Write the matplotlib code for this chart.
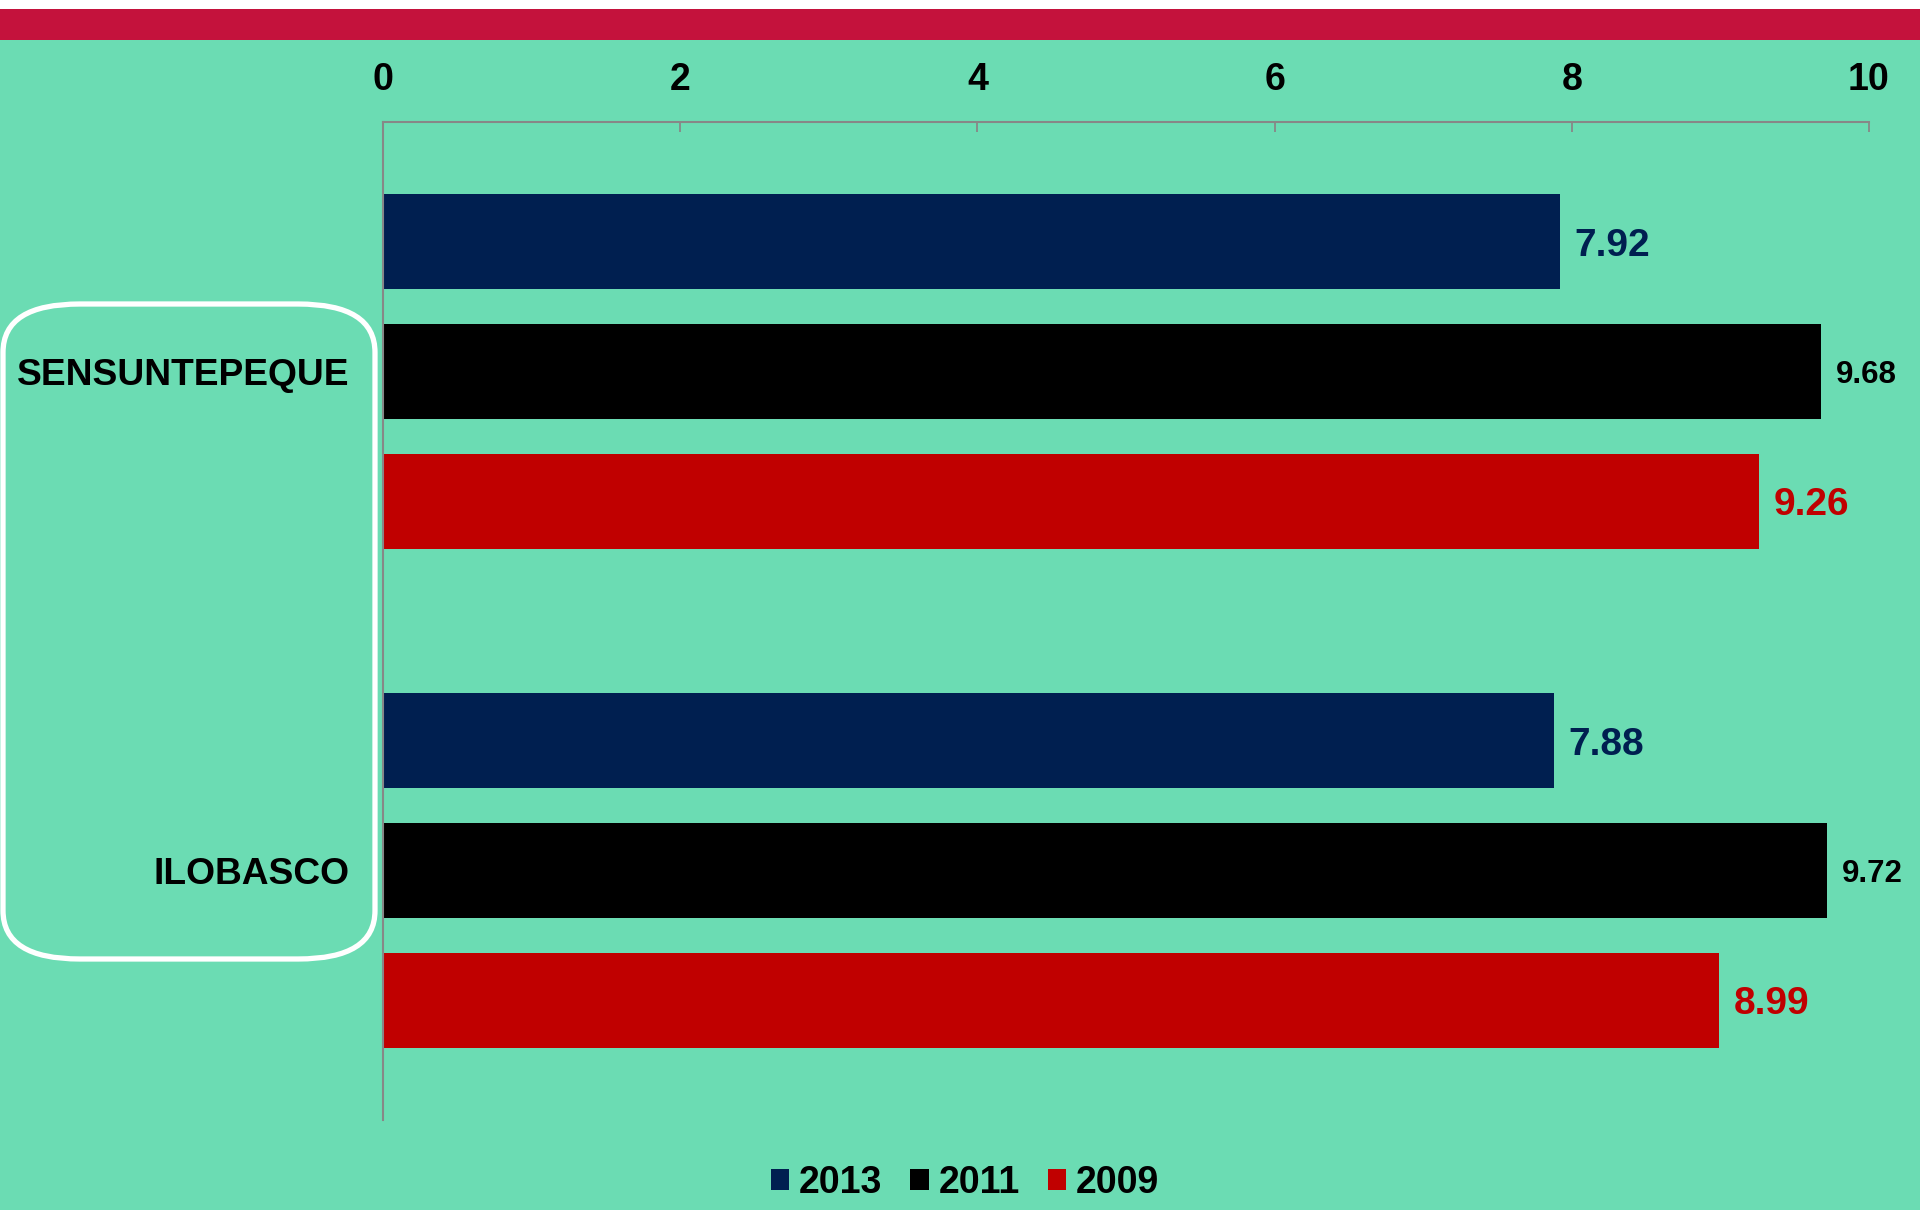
import matplotlib.pyplot as plt
from matplotlib.patches import Rectangle, FancyBboxPatch, Patch

# datos del grafico
municipios = ["SENSUNTEPEQUE", "ILOBASCO"]
anios = ["2013", "2011", "2009"]
valores_2013 = [7.92, 7.88]
valores_2011 = [9.68, 9.72]
valores_2009 = [9.26, 8.99]
ticks_x = [0, 2, 4, 6, 8, 10]

fondo = "#6BDCB3"
colores = ["#001F50", "#000000", "#C00000"]
tam_etiqueta = [28, 22.5, 28]

fuente_estrecha = ["Liberation Sans Narrow", "Liberation Sans", "DejaVu Sans"]
fuente = ["Liberation Sans", "DejaVu Sans"]

fig = plt.figure(figsize=(19.2, 12.1), dpi=100, facecolor=fondo)

# franja superior
fig.patches.append(Rectangle((0, 1 - 9 / 1210), 1, 9 / 1210, transform=fig.transFigure,
                             facecolor="white", edgecolor="none", zorder=0))
fig.patches.append(Rectangle((0, 1 - 40 / 1210), 1, 31 / 1210, transform=fig.transFigure,
                             facecolor="#C4123C", edgecolor="none", zorder=0))

ax = fig.add_axes([383 / 1920, 1 - 1120 / 1210, (1869 - 383) / 1920, (1120 - 122) / 1210])
ax.set_facecolor(fondo)

paso = 0.26
alto = 0.19
series = [valores_2013, valores_2011, valores_2009]
for k, vals in enumerate(series):
    pos = [i + (k - 1) * paso for i in range(len(municipios))]
    ax.barh(pos, vals, height=alto, color=colores[k], label=anios[k], zorder=2)
    for p, v in zip(pos, vals):
        ax.text(v + 0.1, p, f"{v:.2f}", va="center_baseline", ha="left", color=colores[k],
                fontsize=tam_etiqueta[k], fontweight="bold", family=fuente)

ax.set_xlim(0, 10)
ax.set_ylim(1.5, -0.5)
ax.set_xticks(ticks_x)
ax.set_xticklabels([str(t) for t in ticks_x], fontsize=27, fontweight="bold", family=fuente_estrecha)
ax.xaxis.tick_top()
ax.tick_params(axis="x", direction="in", length=7, width=1.3, color="#878787", pad=17)

ax.set_yticks(range(len(municipios)))
ax.set_yticklabels(municipios, fontsize=26.7, fontweight="bold", family=fuente)
ax.tick_params(axis="y", length=0, pad=24)

for lado in ["right", "bottom"]:
    ax.spines[lado].set_visible(False)
for lado in ["top", "left"]:
    ax.spines[lado].set_color("#878787")
    ax.spines[lado].set_linewidth(1.5)

# recuadro redondeado blanco alrededor de los nombres
caja = FancyBboxPatch((3 / 1920, 1 - 959 / 1210), (375 - 3) / 1920, (959 - 304) / 1210,
                      boxstyle="round,pad=0,rounding_size=0.04", transform=fig.transFigure,
                      facecolor="none", edgecolor="white", linewidth=3.8, zorder=5)
fig.patches.append(caja)

manijas = [Patch(facecolor=c, edgecolor="none") for c in colores]
fig.legend(manijas, anios, loc="center", bbox_to_anchor=(0.5025, 1 - 1183 / 1210), ncol=3,
           frameon=False, handlelength=0.5, handleheight=0.5, handletextpad=0.25,
           columnspacing=0.75, prop={"family": fuente_estrecha, "weight": "bold", "size": 27})

fig.savefig("out.png", dpi=100, facecolor=fondo)
